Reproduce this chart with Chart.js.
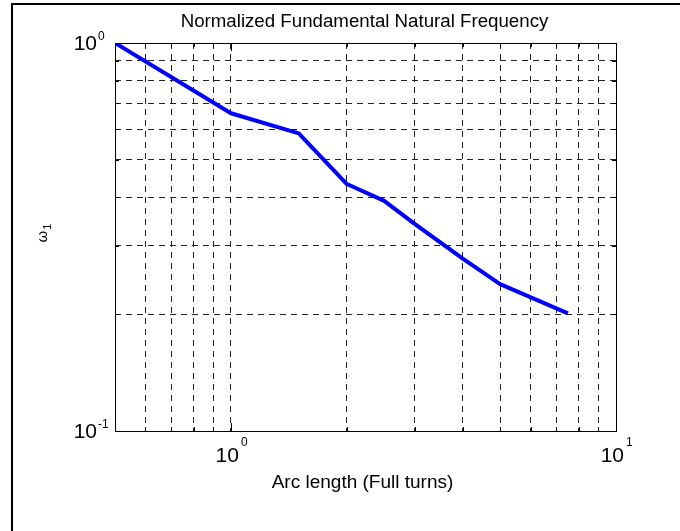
<!DOCTYPE html>
<html><head><meta charset="utf-8">
<script src="https://cdn.jsdelivr.net/npm/chart.js@4/dist/chart.umd.min.js"></script>
<style>html,body{margin:0;padding:0;background:#fff;overflow:hidden}canvas{display:block}</style>
</head><body>
<canvas id="c" width="680" height="531"></canvas>
<script>
// ---- data ----
const arcLength = [0.5, 1.0, 1.5, 2.0, 2.5, 3.0, 4.0, 5.0, 7.5];
const omega1    = [1.0, 0.659, 0.585, 0.433, 0.392, 0.342, 0.278, 0.239, 0.201];
const xGridValues = [0.5, 0.6, 0.7, 0.8, 0.9, 1, 2, 3, 4, 5, 6, 7, 8, 9, 10];
const yGridValues = [0.1, 0.2, 0.3, 0.4, 0.5, 0.6, 0.7, 0.8, 0.9, 1];
const xMajorTicks = [1, 10];
const xMajorExps  = ['0', '1'];
const yMajorTicks = [0.1, 1];
const yMajorExps  = ['-1', '0'];
const titleText = 'Normalized Fundamental Natural Frequency';
const xTitleText = 'Arc length (Full turns)';
const yTitleBase = 'ω';
const yTitleSub = '1';

const FONT = '"Liberation Sans", Arial, Helvetica, sans-serif';

const decor = {
  id: 'decor',
  beforeDraw(chart) {
    const ctx = chart.ctx;
    ctx.save();
    ctx.fillStyle = '#fff';
    ctx.fillRect(0, 0, chart.width, chart.height);
    ctx.fillStyle = '#000';
    ctx.fillRect(11, 3, 2, chart.height - 3);
    ctx.fillRect(11, 3, chart.width - 11, 2);
    ctx.restore();
  },
  afterDraw(chart) {
    const {ctx, chartArea: a, scales: {x, y}} = chart;
    ctx.save();
    ctx.strokeStyle = '#000';
    ctx.lineWidth = 1;
    // inward ticks
    ctx.beginPath();
    xGridValues.forEach(v => {
      const px = Math.round(x.getPixelForValue(v)) + 0.5;
      const len = xMajorTicks.includes(v) ? 8 : 4;
      ctx.moveTo(px, a.bottom); ctx.lineTo(px, a.bottom - len);
      ctx.moveTo(px, a.top); ctx.lineTo(px, a.top + len);
    });
    yGridValues.forEach(v => {
      const py = Math.round(y.getPixelForValue(v)) + 0.5;
      const len = yMajorTicks.includes(v) ? 8 : 4;
      ctx.moveTo(a.left, py); ctx.lineTo(a.left + len, py);
      ctx.moveTo(a.right, py); ctx.lineTo(a.right - len, py);
    });
    ctx.stroke();
    // box
    ctx.strokeRect(Math.round(a.left) + 0.5, Math.round(a.top) + 0.5,
                   Math.round(a.right - a.left), Math.round(a.bottom - a.top));
    ctx.fillStyle = '#000';
    // x tick labels
    xMajorTicks.forEach((v, i) => {
      const px = x.getPixelForValue(v);
      ctx.font = '21px ' + FONT;
      ctx.textAlign = 'right'; ctx.textBaseline = 'alphabetic';
      ctx.fillText('10', px + 8, a.bottom + 31);
      ctx.font = '12px ' + FONT;
      ctx.textAlign = 'left';
      ctx.fillText(xMajorExps[i], px + 10, a.bottom + 15);
    });
    // y tick labels
    yMajorTicks.forEach((v, i) => {
      const py = y.getPixelForValue(v);
      ctx.font = '21px ' + FONT;
      ctx.textAlign = 'right'; ctx.textBaseline = 'alphabetic';
      ctx.fillText('10', 97, py + 7);
      ctx.font = '12px ' + FONT;
      ctx.textAlign = 'left';
      ctx.fillText(yMajorExps[i], 98, py - 3);
    });
    // titles
    const cx = (a.left + a.right) / 2;
    ctx.textAlign = 'center';
    ctx.font = '18.7px ' + FONT;
    ctx.fillText(titleText, cx - 1, 27);
    ctx.font = '19px ' + FONT;
    ctx.fillText(xTitleText, cx - 3, 488);
    // y title rotated
    const cy = (a.top + a.bottom) / 2 - 4;
    ctx.translate(47, cy);
    ctx.rotate(-Math.PI / 2);
    ctx.font = '15px ' + FONT;
    const wb = ctx.measureText(yTitleBase).width;
    ctx.font = '11px ' + FONT;
    const ws = ctx.measureText(yTitleSub).width;
    const start = -(wb + ws + 1) / 2;
    ctx.font = '15px ' + FONT;
    ctx.textAlign = 'left';
    ctx.fillText(yTitleBase, start, 0);
    ctx.font = '11px ' + FONT;
    ctx.fillText(yTitleSub, start + wb + 1, 4);
    ctx.restore();
  }
};

const setTicks = vals => scale => { scale.ticks = vals.map(v => ({value: v})); };

new Chart(document.getElementById('c'), {
  type: 'line',
  data: {
    datasets: [{
      data: arcLength.map((v, i) => ({x: v, y: omega1[i]})),
      borderColor: '#0000ff',
      borderWidth: 4,
      pointRadius: 0,
      tension: 0,
      fill: false,
      clip: 0,
      borderJoinStyle: 'round'
    }]
  },
  options: {
    responsive: false,
    animation: false,
    devicePixelRatio: 1,
    layout: {padding: {left: 115, top: 43, right: 64, bottom: 100}},
    plugins: {legend: {display: false}, tooltip: {enabled: false}, title: {display: false}},
    scales: {
      x: {
        type: 'logarithmic', min: 0.5, max: 10,
        afterBuildTicks: setTicks(xGridValues),
        ticks: {display: false},
        grid: {color: '#222', lineWidth: 1, drawTicks: false},
        border: {display: false, dash: [6, 5]}
      },
      y: {
        type: 'logarithmic', min: 0.1, max: 1,
        afterBuildTicks: setTicks(yGridValues),
        ticks: {display: false},
        grid: {color: '#222', lineWidth: 1, drawTicks: false},
        border: {display: false, dash: [6, 5]}
      }
    }
  },
  plugins: [decor]
});
</script>
</body></html>
